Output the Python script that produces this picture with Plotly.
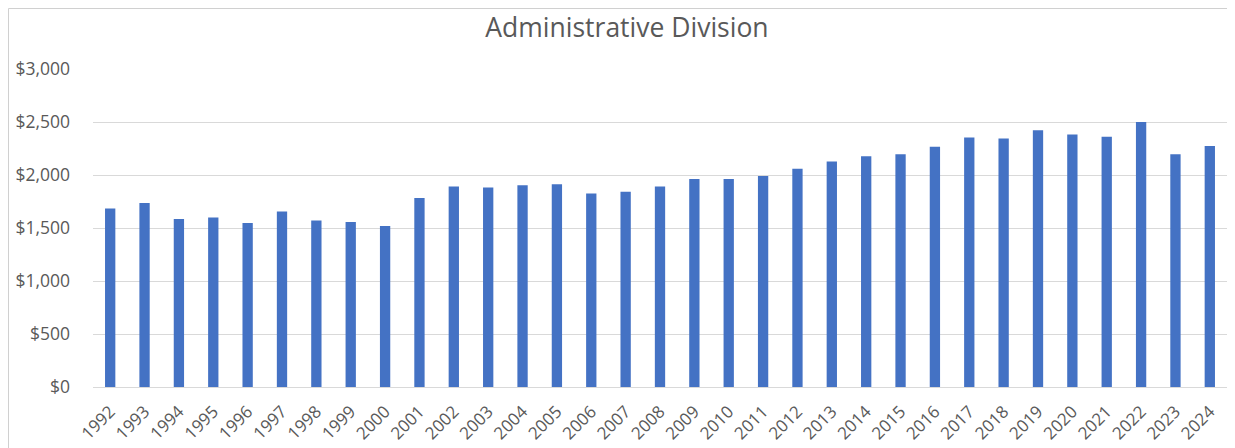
import plotly.graph_objects as go

# 数据：年份与金额
years = [str(y) for y in range(1992, 2025)]
amounts = [
    1685, 1735, 1585, 1598, 1547, 1655, 1570, 1557, 1519, 1783,
    1891, 1881, 1903, 1912, 1825, 1843, 1891, 1962, 1962, 1991,
    2060, 2127, 2177, 2196, 2266, 2354, 2344, 2423, 2382, 2360,
    2500, 2196, 2274,
]
y_ticks = [0, 500, 1000, 1500, 2000, 2500, 3000]

_COLOR_BAR = "#4472C4"
_COLOR_TEXT = "#595959"
_COLOR_GRID = "#D9D9D9"
_FONT = "Open Sans, Noto Sans, sans-serif"

# 页面 body 默认有 8px 外边距，图表尺寸与边距按此补偿
W, H = 1227, 440
M_L, M_R, M_T, M_B = 85, 8, 61, 61

fig = go.Figure(
    go.Bar(
        x=years,
        y=amounts,
        marker=dict(color=_COLOR_BAR, line=dict(width=0)),
        hovertemplate="%{x}<br>$%{y:,.0f}<extra></extra>",
    )
)

plot_w = W - M_L - M_R
plot_h = H - M_T - M_B


def px_x(p):
    return (p - M_L) / plot_w


def px_y(p):
    return (H - M_B - p) / plot_h


# 外框（Excel 图表区边框）
border = dict(color="#D0D0D0", width=1)
fig.add_shape(type="line", xref="paper", yref="paper",
              x0=px_x(0.5), x1=px_x(1221), y0=px_y(0.5), y1=px_y(0.5), line=border)
fig.add_shape(type="line", xref="paper", yref="paper",
              x0=px_x(0.5), x1=px_x(0.5), y0=px_y(0.5), y1=px_y(H), line=border)
fig.add_shape(type="line", xref="paper", yref="paper",
              x0=px_x(1221), x1=px_x(1221), y0=px_y(0.5), y1=px_y(H), line=border)

fig.update_layout(
    width=W,
    height=H,
    paper_bgcolor="white",
    plot_bgcolor="white",
    font=dict(family=_FONT, color=_COLOR_TEXT, size=17),
    title=dict(
        text="Administrative Division",
        font=dict(size=26.5, color=_COLOR_TEXT, family=_FONT),
        x=619 / W,
        xref="container",
        xanchor="center",
        y=1 - 20 / H,
        yanchor="middle",
    ),
    margin=dict(l=M_L, r=M_R, t=M_T, b=M_B, autoexpand=False),
    bargap=0.7,
    showlegend=False,
    xaxis=dict(
        type="category",
        tickangle=-45,
        tickfont=dict(size=17, color=_COLOR_TEXT),
        showgrid=False,
        showline=True,
        linecolor=_COLOR_GRID,
        linewidth=1,
        ticks="",
        ticklabelstandoff=7,
        automargin=False,
    ),
    yaxis=dict(
        range=[0, 3000],
        tickvals=y_ticks,
        tickformat="$,.0f",
        tickfont=dict(size=17.5, color=_COLOR_TEXT),
        gridcolor=_COLOR_GRID,
        gridwidth=1,
        zeroline=False,
        showline=False,
        ticks="",
        ticklabelstandoff=22,
        automargin=False,
    ),
)

fig.write_html("out.html")
